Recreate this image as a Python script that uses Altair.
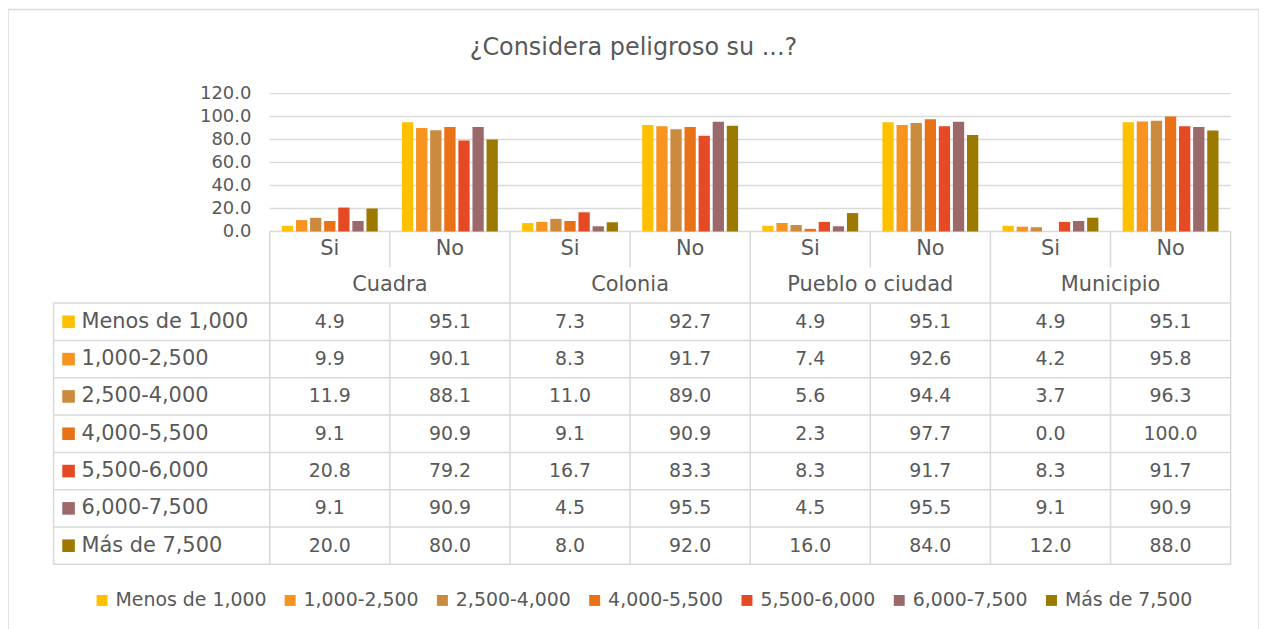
import altair as alt
import pandas as pd

# ---------------- data ----------------
TITLE = "¿Considera peligroso su ...?"
GROUPS = ["Cuadra", "Colonia", "Pueblo o ciudad", "Municipio"]
ANSWERS = ["Si", "No"]
SERIES = ["Menos de 1,000", "1,000-2,500", "2,500-4,000", "4,000-5,500",
          "5,500-6,000", "6,000-7,500", "Más de 7,500"]
COLORS = ["#FFC000", "#F7931E", "#CC8A3E", "#E97116", "#E54A24", "#9B6969", "#9C7A00"]

CUADRA_SI = [4.9, 9.9, 11.9, 9.1, 20.8, 9.1, 20.0]
CUADRA_NO = [95.1, 90.1, 88.1, 90.9, 79.2, 90.9, 80.0]
COLONIA_SI = [7.3, 8.3, 11.0, 9.1, 16.7, 4.5, 8.0]
COLONIA_NO = [92.7, 91.7, 89.0, 90.9, 83.3, 95.5, 92.0]
PUEBLO_SI = [4.9, 7.4, 5.6, 2.3, 8.3, 4.5, 16.0]
PUEBLO_NO = [95.1, 92.6, 94.4, 97.7, 91.7, 95.5, 84.0]
MUNICIPIO_SI = [4.9, 4.2, 3.7, 0.0, 8.3, 9.1, 12.0]
MUNICIPIO_NO = [95.1, 95.8, 96.3, 100.0, 91.7, 90.9, 88.0]
Y_TICKS = [0, 20, 40, 60, 80, 100, 120]

VALUES = {
    ("Cuadra", "Si"): CUADRA_SI, ("Cuadra", "No"): CUADRA_NO,
    ("Colonia", "Si"): COLONIA_SI, ("Colonia", "No"): COLONIA_NO,
    ("Pueblo o ciudad", "Si"): PUEBLO_SI, ("Pueblo o ciudad", "No"): PUEBLO_NO,
    ("Municipio", "Si"): MUNICIPIO_SI, ("Municipio", "No"): MUNICIPIO_NO,
}

# ---------------- layout / style ----------------
W, H = 1257, 640
PLOT_X = [263, 1228.5]
BAR_Y = [223, 84.5]
ROW_Y = [295, 557.5]
NCOL, NROW = 8, 7
TOP, MID, LEFT = -1.92, -0.96, -1.8
FONT = "DejaVu Sans"
GRAY = "#595959"
LINE = "#D9D9D9"

# ---------------- tables ----------------
col_keys = []
rows = []
for gi, g in enumerate(GROUPS):
    for ai, a in enumerate(ANSWERS):
        c = gi * 2 + ai
        key = f"{g} {a}"
        col_keys.append(key)
        for si, s in enumerate(SERIES):
            v = VALUES[(g, a)][si]
            rows.append(dict(col=key, serie=s, value=v, cx=c + 0.5, ry=si + 0.5,
                             label=f"{v:.1f}"))
df = pd.DataFrame(rows)

ans_df = pd.DataFrame([dict(cx=gi * 2 + ai + 0.5, ry=(TOP + MID) / 2, t=a)
                       for gi in range(len(GROUPS)) for ai, a in enumerate(ANSWERS)])
grp_df = pd.DataFrame([dict(cx=gi * 2 + 1, ry=MID / 2, t=g) for gi, g in enumerate(GROUPS)])
ser_df = pd.DataFrame([dict(serie=s, ry=si + 0.5, sx=LEFT + 0.125, tx=LEFT + 0.232)
                       for si, s in enumerate(SERIES)])
grid_df = pd.DataFrame([dict(v=v, x0=0, x1=NCOL) for v in Y_TICKS])

segs = []
for r in range(NROW + 1):
    segs.append(dict(x=LEFT, x2=NCOL, y=r, y2=r))
for c in range(NCOL + 1):
    if c % 2 == 0:
        segs.append(dict(x=c, x2=c, y=TOP, y2=NROW))
    else:
        segs.append(dict(x=c, x2=c, y=TOP, y2=MID))
        segs.append(dict(x=c, x2=c, y=0, y2=NROW))
segs.append(dict(x=LEFT, x2=LEFT, y=0, y2=NROW))
seg_df = pd.DataFrame(segs)

# ---------------- scales ----------------
XT = alt.Scale(domain=[0, NCOL], range=PLOT_X, nice=False, zero=False)
YT = alt.Scale(domain=[0, NROW], range=ROW_Y, nice=False, zero=False)
YB = alt.Scale(domain=[0, 120], range=BAR_Y, nice=False, zero=True)
CS = alt.Scale(domain=SERIES, range=COLORS)

grid = alt.Chart(grid_df).mark_rule(color=LINE, strokeWidth=1.5).encode(
    x=alt.X("x0:Q", scale=XT, axis=None), x2="x1",
    y=alt.Y("v:Q", scale=YB, axis=None))

bars = alt.Chart(df).mark_bar().encode(
    x=alt.X("col:N", scale=alt.Scale(domain=col_keys, range=PLOT_X,
                                     paddingInner=0, paddingOuter=0), axis=None),
    xOffset=alt.XOffset("serie:N", scale=alt.Scale(domain=SERIES, paddingInner=0.2,
                                                  paddingOuter=0.86)),
    y=alt.Y("value:Q", scale=YB, title=None,
            axis=alt.Axis(values=Y_TICKS, format=".1f", offset=-PLOT_X[0], ticks=False,
                          tickSize=0, domain=False, grid=False, labelPadding=19,
                          labelFont=FONT, labelFontSize=18, labelColor=GRAY)),
    color=alt.Color("serie:N", scale=CS,
                    legend=alt.Legend(orient="none", legendX=85, legendY=584,
                                      direction="horizontal", title=None,
                                      symbolType="square", symbolSize=121,
                                      symbolStrokeWidth=0, labelFont=FONT,
                                      labelFontSize=19, labelColor=GRAY,
                                      columnPadding=14, labelOffset=4)))

lines = alt.Chart(seg_df).mark_rule(color=LINE, strokeWidth=1.5).encode(
    x=alt.X("x:Q", scale=XT, axis=None), x2="x2",
    y=alt.Y("y:Q", scale=YT, axis=None), y2="y2")

def txt(data, size, align="center"):
    return alt.Chart(data).mark_text(font=FONT, fontSize=size, color=GRAY,
                                     align=align, baseline="middle")

nums = txt(df, 19).encode(x=alt.X("cx:Q", scale=XT, axis=None),
                          y=alt.Y("ry:Q", scale=YT, axis=None), text="label:N")
answers = txt(ans_df, 21).encode(x=alt.X("cx:Q", scale=XT, axis=None),
                                 y=alt.Y("ry:Q", scale=YT, axis=None), text="t:N")
groups = txt(grp_df, 21).encode(x=alt.X("cx:Q", scale=XT, axis=None),
                                y=alt.Y("ry:Q", scale=YT, axis=None), text="t:N")
sq = alt.Chart(ser_df).mark_point(shape="square", filled=True, size=160, opacity=1).encode(
    x=alt.X("sx:Q", scale=XT, axis=None), y=alt.Y("ry:Q", scale=YT, axis=None),
    color=alt.Color("serie:N", scale=CS, legend=None))
serlab = txt(ser_df, 21, align="left").encode(
    x=alt.X("tx:Q", scale=XT, axis=None), y=alt.Y("ry:Q", scale=YT, axis=None),
    text="serie:N")

chart = alt.layer(grid, bars, lines, nums, answers, groups, sq, serlab).resolve_scale(
    x="independent", y="independent", color="independent"
).properties(
    width=W, height=H, padding=0,
    autosize=alt.AutoSizeParams(type="none"),
    title=alt.TitleParams(TITLE, anchor="middle", frame="group", offset=-51,
                          font=FONT, fontSize=24, fontWeight="normal", color=GRAY),
).configure_view(stroke=LINE, strokeWidth=1.5)

chart.save("out.html", embed_options={"renderer": "svg", "actions": False})
